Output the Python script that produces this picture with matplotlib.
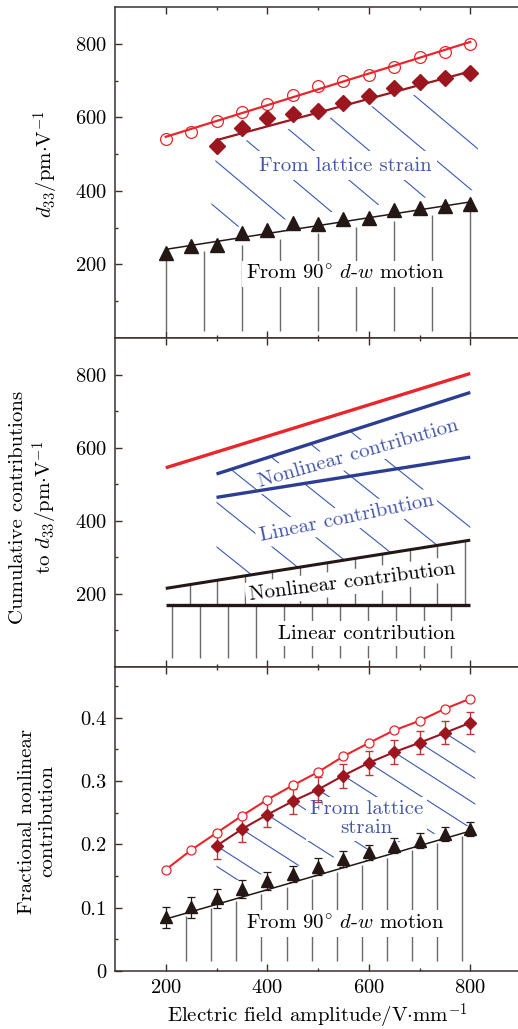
import numpy as np
import matplotlib
matplotlib.use('Agg')
import matplotlib.pyplot as plt
from matplotlib.collections import LineCollection
from matplotlib.patches import Polygon

plt.rcParams['font.family'] = ['cmr10']
plt.rcParams['mathtext.fontset'] = 'cm'
plt.rcParams['axes.unicode_minus'] = False
plt.rcParams['axes.formatter.use_mathtext'] = True

# ---------------- data ----------------
field = [200, 250, 300, 350, 400, 450, 500, 550, 600, 650, 700, 750, 800]
field_lat = [300, 350, 400, 450, 500, 550, 600, 650, 700, 750, 800]

# top panel: d33 (pm/V)
d33_total = [541, 561, 591, 614, 636, 661, 685, 700, 716, 736, 764, 779, 800]
d33_lattice = [521, 570, 598, 609, 618, 638, 658, 679, 697, 706, 720]
d33_dw = [230, 250, 252, 286, 295, 314, 311, 323, 327, 347, 353, 359, 364]
fit_total_x = [200, 800]
fit_total_y = [547, 805]
fit_lat_x = [300, 800]
fit_lat_y = [538, 725]
fit_dw_x = [200, 800]
fit_dw_y = [241, 370]

# middle panel: cumulative contributions
cum_total_x = [200, 800]
cum_total_y = [545, 803]
cum_lat_nl_x = [300, 800]
cum_lat_nl_y = [528, 751]
cum_lat_lin_x = [300, 800]
cum_lat_lin_y = [464, 574]
cum_dw_nl_x = [200, 800]
cum_dw_nl_y = [215, 347]
cum_dw_lin_x = [200, 800]
cum_dw_lin_y = [169, 169]

# bottom panel: fractional nonlinear contribution
frac_total = [0.160, 0.191, 0.218, 0.245, 0.2705, 0.293, 0.314, 0.339, 0.360, 0.380, 0.395, 0.414, 0.430]
frac_lattice = [0.1976, 0.224, 0.2468, 0.268, 0.2864, 0.3086, 0.3287, 0.3456, 0.3604, 0.376, 0.392]
frac_lattice_err = [0.021, 0.020, 0.020, 0.020, 0.020, 0.019, 0.019, 0.019, 0.018, 0.018, 0.017]
frac_dw = [0.0845, 0.1004, 0.1147, 0.1295, 0.142, 0.153, 0.165, 0.1765, 0.1876, 0.1976, 0.206, 0.216, 0.2246]
frac_dw_err = [0.017, 0.016, 0.015, 0.014, 0.014, 0.013, 0.013, 0.013, 0.012, 0.012, 0.012, 0.011, 0.011]
fit_frac_dw_x = [200, 800]
fit_frac_dw_y = [0.082, 0.221]

# ---------------- style ----------------
RED = '#e8262b'
DRED = '#9c1620'
ERED = '#b8383c'
BLACK = '#231815'
BLUE = '#2d3e92'
HBLUE = '#3a5aae'
TBLUE = '#4456a8'
GRAY = '#6a6a6a'
SPINE = '#3a2f2d'
FS = 15
TFS = 14.8

W, H = 518, 1029
fig = plt.figure(figsize=(W / 100, H / 100), dpi=100)
L = 115 / W
AW = 406 / W
ax1 = fig.add_axes([L, 1 - 338 / H, AW, 331 / H])
ax2 = fig.add_axes([L, 1 - 667 / H, AW, 329 / H])
ax3 = fig.add_axes([L, 1 - 971 / H, AW, 304 / H])

for ax in (ax1, ax2, ax3):
    ax.set_xlim(100, 900)
    ax.set_xticks([200, 400, 600, 800])
    ax.set_xticks([300, 500, 700], minor=True)
    ax.tick_params(axis='both', which='both', direction='in', colors=SPINE,
                   labelcolor='black', labelsize=TFS, width=1.0)
    ax.tick_params(axis='x', which='both', top=True, bottom=True)
    ax.tick_params(axis='y', which='both', left=True, right=False, pad=6)
    ax.tick_params(which='major', length=5)
    ax.tick_params(which='minor', length=2.5)
    for s in ax.spines.values():
        s.set_color(SPINE)
        s.set_linewidth(1.1)
    ax.spines['right'].set_visible(False)

ax1.tick_params(axis='x', labelbottom=False)
ax2.tick_params(axis='x', labelbottom=False)
ax3.tick_params(axis='x', pad=6)

for ax in (ax1, ax2):
    ax.set_ylim(0, 900)
    ax.set_yticks([200, 400, 600, 800])
    ax.set_yticks([100, 300, 500, 700], minor=True)
ax3.set_ylim(0, 0.48)
ax3.set_yticks([0, 0.1, 0.2, 0.3, 0.4])
ax3.set_yticklabels(['0', '0.1', '0.2', '0.3', '0.4'])
ax3.set_yticks([0.05, 0.15, 0.25, 0.35, 0.45], minor=True)


def hatch(ax, poly, anchors, slope_px, color, lw=0.8, z=1):
    """Decorative diagonal hatching clipped to a polygon."""
    patch = Polygon(poly, closed=True, facecolor='none', edgecolor='none')
    ax.add_patch(patch)
    (x0, y0), (x1, y1) = ax.transData.transform([(0, 0), (1, 1)])
    k = slope_px * (x1 - x0) / (y1 - y0)
    span = 1000
    segs = [[(xa - span, ya + k * span), (xa + span, ya - k * span)] for xa, ya in anchors]
    lc = LineCollection(segs, colors=color, linewidths=lw, zorder=z)
    ax.add_collection(lc)
    lc.set_clip_path(patch)


def lin(xs, ys, x):
    return ys[0] + (ys[1] - ys[0]) * (np.asarray(x, float) - xs[0]) / (xs[1] - xs[0])


box = dict(facecolor='white', edgecolor='none', pad=2.5)
DW_TEXT = r'From $90^{\circ}$ $d$-$w$ motion'

# ---------------- top panel ----------------
vx = np.arange(200, 801, 75)
ax1.vlines(vx, 18, lin(fit_dw_x, fit_dw_y, vx) - 20, colors=GRAY, linewidth=1.0, zorder=1)
up = lambda x: lin(fit_lat_x, fit_lat_y, x) - 23
lo = lambda x: lin(fit_dw_x, fit_dw_y, x) + 31
poly1 = [(300, up(300)), (815, up(815)), (815, lo(815)), (285, lo(285))]
anch1 = [(150 + 109 * i, 527) for i in range(7)]
hatch(ax1, poly1, anch1, 0.84, HBLUE, 0.8)

ax1.plot(fit_total_x, fit_total_y, color=RED, lw=1.6, zorder=5)
ax1.plot(field, d33_total, 'o', mfc='none', mec=RED, mew=0.9, ms=8.5, zorder=6)
ax1.plot(fit_lat_x, fit_lat_y, color=DRED, lw=1.6, zorder=5)
ax1.plot(field_lat, d33_lattice, 'D', color=DRED, ms=8, zorder=6)
ax1.plot(fit_dw_x, fit_dw_y, color=BLACK, lw=1.1, zorder=5)
ax1.plot(field, d33_dw, '^', color=BLACK, ms=10, zorder=6)

ax1.text(553, 468, 'From lattice strain', color=TBLUE, fontsize=FS, ha='center', va='center',
         bbox=dict(facecolor='white', edgecolor='none', pad=4), zorder=4)
ax1.text(553, 174, DW_TEXT, color='black', fontsize=FS, ha='center',
         va='center', bbox=box, zorder=4)

# ---------------- middle panel ----------------
vx_lo = np.arange(212, 770, 55.1)
ax2.vlines(vx_lo, 25, cum_dw_lin_y[0], colors=GRAY, linewidth=1.0, zorder=1)
vx_up = np.arange(247, 790, 54.2)
ax2.vlines(vx_up, cum_dw_lin_y[0], lin(cum_dw_nl_x, cum_dw_nl_y, vx_up), colors=GRAY, linewidth=1.0, zorder=1)
poly2 = [(300, lin(cum_lat_nl_x, cum_lat_nl_y, 300)), (800, lin(cum_lat_nl_x, cum_lat_nl_y, 800)),
         (800, lin(cum_dw_nl_x, cum_dw_nl_y, 800)), (300, lin(cum_dw_nl_x, cum_dw_nl_y, 300))]
anch2 = [(xa, lin(cum_dw_nl_x, cum_dw_nl_y, xa)) for xa in np.arange(277.5, 830, 91.5)]
hatch(ax2, poly2, anch2, 0.8, HBLUE, 0.8)

ax2.plot(cum_total_x, cum_total_y, color=RED, lw=2.4, zorder=5, solid_capstyle='butt')
ax2.plot(cum_lat_nl_x, cum_lat_nl_y, color=BLUE, lw=2.4, zorder=5, solid_capstyle='butt')
ax2.plot(cum_lat_lin_x, cum_lat_lin_y, color=BLUE, lw=2.4, zorder=5, solid_capstyle='butt')
ax2.plot(cum_dw_nl_x, cum_dw_nl_y, color=BLACK, lw=2.2, zorder=5, solid_capstyle='butt')
ax2.plot(cum_dw_lin_x, cum_dw_lin_y, color=BLACK, lw=2.4, zorder=5, solid_capstyle='butt')

ax2.text(579, 584, 'Nonlinear contribution', color=TBLUE, fontsize=FS, ha='center', va='center',
         rotation=16, rotation_mode='anchor', bbox=box, zorder=4)
ax2.text(556, 407, 'Linear contribution', color=TBLUE, fontsize=FS, ha='center', va='center',
         rotation=11.7, rotation_mode='anchor', bbox=box, zorder=4)
ax2.text(567, 233, 'Nonlinear contribution', color='black', fontsize=FS, ha='center', va='center',
         rotation=7.3, rotation_mode='anchor', bbox=box, zorder=4)
ax2.text(596, 91, 'Linear contribution', color='black', fontsize=FS, ha='center', va='center',
         bbox=box, zorder=4)

# ---------------- bottom panel ----------------
vx3 = np.arange(240, 790, 49.5)
ax3.vlines(vx3, 0.016, lin(fit_frac_dw_x, fit_frac_dw_y, vx3) - 0.004, colors=GRAY, linewidth=1.0, zorder=1)
lo3 = lambda x: 0.136 + (0.230 - 0.136) * (x - 300) / 500
anch3 = [(field[1], frac_total[1])] + [(p, q) for p, q in zip(field_lat[:-1], frac_lattice[:-1])]
poly3 = [(300, frac_lattice[0])] + [(p, q) for p, q in zip(field_lat, frac_lattice)] + \
        [(810, frac_lattice[-1] - 0.005), (810, lo3(810)), (300, lo3(300))]
hatch(ax3, poly3, anch3, 0.64, HBLUE, 0.8)

ax3.plot(field, frac_total, '-o', color=RED, mfc='white', mec=RED, mew=0.9, ms=6.5, lw=1.5, zorder=6)
ax3.errorbar(field_lat, frac_lattice, yerr=frac_lattice_err, fmt='none', ecolor=ERED,
             elinewidth=1.0, capsize=3, capthick=1.0, zorder=5)
ax3.plot(field_lat, frac_lattice, '-D', color=DRED, ms=6.5, lw=1.5, zorder=6)
ax3.errorbar(field, frac_dw, yerr=frac_dw_err, fmt='none', ecolor=BLACK,
             elinewidth=0.9, capsize=3, capthick=0.9, zorder=5)
ax3.plot(fit_frac_dw_x, fit_frac_dw_y, color=BLACK, lw=1.1, zorder=5)
ax3.plot(field, frac_dw, '^', color=BLACK, ms=8, zorder=6)

ax3.text(596, 0.2404, 'From lattice\nstrain', color=TBLUE, fontsize=FS, ha='center', va='center',
         linespacing=1.05, bbox=box, zorder=4)
ax3.text(554, 0.075, DW_TEXT, color='black', fontsize=FS, ha='center',
         va='center', bbox=box, zorder=4)

# ---------------- labels ----------------
fig.text(46 / W, 1 - 164 / H, r'$d_{33}$/pm$\cdot$V$^{-1}$', rotation=90, ha='center', va='center',
         fontsize=FS)
fig.text(34.5 / W, 1 - 507 / H, 'Cumulative contributions\n' + r'to $d_{33}$/pm$\cdot$V$^{-1}$',
         rotation=90, ha='center', va='center', fontsize=FS, linespacing=1.2)
fig.text(37 / W, 1 - 821 / H, 'Fractional nonlinear\ncontribution', rotation=90, ha='center',
         va='center', fontsize=FS, linespacing=1.2)
fig.text(317 / W, 1 - 1016 / H, r'Electric field amplitude/V$\cdot$mm$^{-1}$', ha='center',
         va='center', fontsize=FS)

fig.savefig('out.png', dpi=100)
